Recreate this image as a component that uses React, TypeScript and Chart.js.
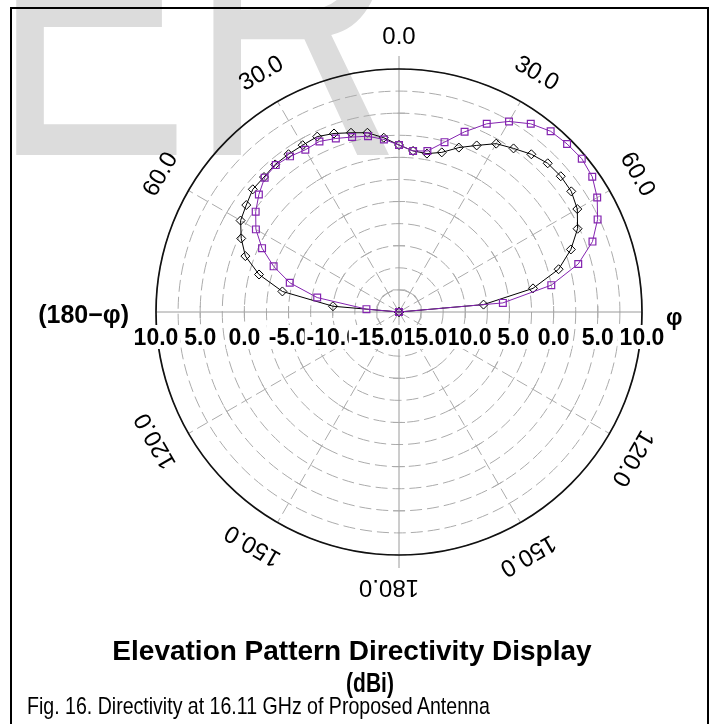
import React, { useEffect, useRef } from 'react';
import { Chart, registerables } from 'chart.js';

Chart.register(...registerables);

// ---- data (elevation angle, degrees; directivity, dBi) ----
const STEP_DEG = 5;
const ANGLES_DEG = [-90, -85, -80, -75, -70, -65, -60, -55, -50, -45, -40, -35, -30, -25, -20, -15, -10, -5, 0, 5, 10, 15, 20, 25, 30, 35, 40, 45, 50, 55, 60, 65, 70, 75, 80, 85, 90];
const BLACK_DBI = [-17.5, -10.0, -4.1, -1.1, 1.0, 2.2, 3.2, 3.6, 4.1, 4.1, 4.3, 4.3, 4.3, 4.4, 4.0, 3.5, 3.1, 2.3, 1.4, 0.8, 0.7, 1.2, 2.3, 3.3, 4.5, 5.1, 5.8, 6.3, 6.4, 6.3, 5.8, 4.8, 3.2, 1.2, -2.1, -7.9, -17.5];
const PURPLE_DBI = [-17.5, -13.8, -8.1, -4.7, -2.4, -0.4, 1.2, 2.3, 3.2, 4.0, 4.2, 4.0, 3.7, 3.8, 3.4, 3.0, 2.7, 2.1, 1.4, 0.8, 1.0, 2.4, 4.2, 6.0, 7.4, 8.5, 9.2, 9.4, 9.5, 9.2, 8.4, 7.3, 5.8, 3.5, 0.0, -5.7, -17.5];

// ---- radial scale ----
const R_MIN = -17.5;
const R_MAX = 10;
const R_STEP = 2.5;
const RADIAL_TICK_VALUES = [10, 5, 0, -5, -10, -15];
const RADIAL_TICK_LABELS = ['10.0', '5.0', '0.0', '-5.0', '-10.0', '-15.0'];
const SPOKE_TICK_VALUES = [-15, -10, -5, 0, 5];

// ---- angular labels ----
const ANGLE_TICK_DEG = [0, 30, 60, 120, 150, 180, -30, -60, -120, -150];
const ANGLE_TICK_LABELS = ['0.0', '30.0', '60.0', '120.0', '150.0', '180.0', '30.0', '60.0', '120.0', '150.0'];
const LEFT_AXIS_LABEL = '(180\u2212\u03c6)';
const RIGHT_AXIS_LABEL = '\u03c6';

const TITLE = 'Elevation Pattern Directivity Display';
const UNIT = '(dBi)';
const CAPTION = 'Fig. 16. Directivity at 16.11 GHz of Proposed Antenna';
const WATERMARK = 'ER';

const PURPLE = '#8424b0';
const BLACK = '#000000';
const GRID = '#ababab';
const FONT = '"Liberation Sans", Arial, Helvetica, sans-serif';

const N_LABELS = 360 / STEP_DEG;
const ANGLE_LABELS = Array.from({ length: N_LABELS }, (_, i) => String(i * STEP_DEG));

function toRadarData(values: number[]) {
  const arr: (number | null)[] = new Array(N_LABELS).fill(null);
  ANGLES_DEG.forEach((deg, i) => {
    arr[(deg / STEP_DEG + N_LABELS) % N_LABELS] = values[i];
  });
  return arr;
}

const overlayPlugin = {
  id: 'polarOverlay',
  beforeDatasetsDraw(chart: any) {
    const s = chart.scales.r;
    const ctx = chart.ctx;
    const cx = s.xCenter;
    const cy = s.yCenter;
    const R = s.drawingArea;
    ctx.save();
    ctx.setLineDash([]);
    ctx.strokeStyle = '#9a9a9a';
    ctx.lineWidth = 1;
    // main axes
    ctx.beginPath();
    ctx.moveTo(cx, cy - R - 13);
    ctx.lineTo(cx, cy + R + 13);
    ctx.moveTo(cx - R, cy);
    ctx.lineTo(cx + R, cy);
    ctx.stroke();
    // cross ticks on spokes
    ctx.strokeStyle = GRID;
    ctx.beginPath();
    for (let k = 0; k < 12; k++) {
      const idx = k * (30 / STEP_DEG);
      for (const v of SPOKE_TICK_VALUES) {
        const d = s.getDistanceFromCenterForValue(v);
        const p = s.getPointPosition(idx, d);
        const ux = (p.x - cx) / d;
        const uy = (p.y - cy) / d;
        ctx.moveTo(p.x - uy * 6, p.y + ux * 6);
        ctx.lineTo(p.x + uy * 6, p.y - ux * 6);
      }
    }
    ctx.stroke();
    // outer circle
    ctx.strokeStyle = '#111';
    ctx.lineWidth = 1.7;
    ctx.beginPath();
    ctx.arc(cx, cy, R, 0, Math.PI * 2);
    ctx.stroke();
    ctx.restore();
  },
  afterDraw(chart: any) {
    const s = chart.scales.r;
    const ctx = chart.ctx;
    const cx = s.xCenter;
    const cy = s.yCenter;
    const R = s.drawingArea;
    ctx.save();
    ctx.fillStyle = '#000';
    // angular labels, rotated
    ctx.font = `24px ${FONT}`;
    ctx.textAlign = 'center';
    ctx.textBaseline = 'middle';
    ANGLE_TICK_DEG.forEach((deg, i) => {
      const idx = (deg / STEP_DEG + N_LABELS) % N_LABELS;
      const p = s.getPointPosition(idx, R + 32);
      ctx.save();
      ctx.translate(p.x, p.y);
      ctx.rotate((deg * Math.PI) / 180);
      const shift = Math.abs(deg) > 90 ? 10 : 0;
      ctx.fillText(ANGLE_TICK_LABELS[i], shift, 0);
      ctx.restore();
    });
    // radial tick labels on white boxes, drawn outer to inner so each box
    // overlaps its outer neighbour (as in the original display)
    ctx.font = `bold 23px ${FONT}`;
    ctx.textBaseline = 'alphabetic';
    const baseY = cy + 33;
    const minusW = ctx.measureText('-').width;
    const box = (l: number, r: number) => {
      ctx.fillStyle = '#fff';
      ctx.fillRect(l, cy + 13, r - l, 24);
    };
    // right side
    let prevLeft: number | null = null;
    let prevNeg = false;
    RADIAL_TICK_VALUES.forEach((v, i) => {
      const text = RADIAL_TICK_LABELS[i];
      const x = cx + s.getDistanceFromCenterForValue(v);
      const w = ctx.measureText(text).width;
      let right = x + w / 2 + 2;
      if (prevLeft !== null && prevNeg) right = Math.max(right, prevLeft + minusW + 1);
      box(x - w / 2 - 2, right);
      ctx.fillStyle = '#000';
      ctx.textAlign = 'center';
      ctx.fillText(text, x, baseY);
      prevLeft = x - w / 2;
      prevNeg = text.startsWith('-');
    });
    // left side
    RADIAL_TICK_VALUES.forEach((v, i) => {
      const text = RADIAL_TICK_LABELS[i];
      const x = cx - s.getDistanceFromCenterForValue(v);
      const w = ctx.measureText(text).width;
      box(x - w / 2 - 2, x + w / 2 + 2);
      ctx.fillStyle = '#000';
      ctx.textAlign = 'center';
      ctx.fillText(text, x, baseY);
    });
    // side labels
    ctx.fillStyle = '#000';
    ctx.font = `bold 25px ${FONT}`;
    ctx.textBaseline = 'middle';
    ctx.textAlign = 'right';
    ctx.fillText(LEFT_AXIS_LABEL, cx - R - 27, cy + 4);
    ctx.font = `bold 23px ${FONT}`;
    ctx.textAlign = 'left';
    ctx.fillText(RIGHT_AXIS_LABEL, cx + R + 24, cy + 7);
    ctx.restore();
  },
};

export default function App() {
  const canvasRef = useRef<HTMLCanvasElement>(null);

  useEffect(() => {
    const canvas = canvasRef.current;
    if (!canvas) return;
    const chart = new Chart(canvas, {
      type: 'radar',
      data: {
        labels: ANGLE_LABELS,
        datasets: [
          {
            label: 'Directivity (purple)',
            data: toRadarData(PURPLE_DBI),
            borderColor: PURPLE,
            borderWidth: 1,
            fill: false,
            tension: 0,
            spanGaps: false,
            pointStyle: 'rect',
            pointRadius: 4.8,
            pointBorderWidth: 1.2,
            pointBorderColor: PURPLE,
            pointBackgroundColor: 'rgba(255,255,255,0)',
          },
          {
            label: 'Directivity (black)',
            data: toRadarData(BLACK_DBI),
            borderColor: BLACK,
            borderWidth: 1,
            fill: false,
            tension: 0,
            spanGaps: false,
            pointStyle: 'rectRot',
            pointRadius: 4.5,
            pointBorderWidth: 1,
            pointBorderColor: BLACK,
            pointBackgroundColor: 'rgba(255,255,255,0)',
          },
        ],
      },
      options: {
        responsive: false,
        animation: false,
        events: [],
        layout: { padding: { left: 156, top: 69, right: 71, bottom: 169 } },
        plugins: { legend: { display: false }, tooltip: { enabled: false } },
        scales: {
          r: {
            min: R_MIN,
            max: R_MAX,
            startAngle: 0,
            ticks: { display: false, stepSize: R_STEP },
            pointLabels: { display: false },
            grid: { circular: true, color: GRID, lineWidth: 1 },
            border: { dash: [12, 5] },
            angleLines: {
              display: true,
              color: GRID,
              lineWidth: (c: any) => {
                const deg = c.index * STEP_DEG;
                return deg % 30 === 0 && deg % 90 !== 0 ? 1 : 0;
              },
              borderDash: [12, 5],
            },
            afterUpdate: (s: any) => {
              s.xCenter = Math.round(s.left + s.width / 2);
              s.yCenter = Math.round(s.top + s.height / 2);
              s.drawingArea = Math.min(s.width, s.height) / 2;
            },
          } as any,
        },
      },
      plugins: [overlayPlugin],
    });
    return () => chart.destroy();
  }, []);

  return (
    <div
      style={{
        position: 'fixed',
        left: 0,
        top: 0,
        width: 713,
        height: 724,
        overflow: 'hidden',
        background: '#fff',
        fontFamily: FONT,
        color: '#000',
      }}
    >
      <div
        style={{
          position: 'absolute',
          left: -8,
          top: -187.8,
          fontSize: 405,
          lineHeight: '405px',
          color: '#dcdcdc',
          whiteSpace: 'nowrap',
          transformOrigin: 'left top',
          transform: 'scaleX(0.73)',
        }}
      >
        {WATERMARK}
      </div>
      <div
        style={{
          position: 'absolute',
          left: 10,
          top: 7,
          width: 699,
          height: 800,
          boxSizing: 'border-box',
          border: '2px solid #000',
        }}
      />
      <canvas
        ref={canvasRef}
        width={713}
        height={724}
        style={{ position: 'absolute', left: 0, top: 0, width: 713, height: 724 }}
      />
      <div
        style={{
          position: 'absolute',
          left: 352,
          top: 637,
          transform: 'translateX(-50%)',
          fontWeight: 700,
          fontSize: 28,
          lineHeight: '28px',
          whiteSpace: 'nowrap',
        }}
      >
        {TITLE}
      </div>
      <div
        style={{
          position: 'absolute',
          left: 370,
          top: 669,
          transform: 'translateX(-50%) scaleX(0.75)',
          fontWeight: 700,
          fontSize: 28,
          lineHeight: '28px',
          whiteSpace: 'nowrap',
        }}
      >
        {UNIT}
      </div>
      <div
        style={{
          position: 'absolute',
          left: 27,
          top: 694,
          transformOrigin: 'left center',
          transform: 'scaleX(0.815)',
          fontSize: 24,
          lineHeight: '24px',
          whiteSpace: 'nowrap',
        }}
      >
        {CAPTION}
      </div>
    </div>
  );
}
